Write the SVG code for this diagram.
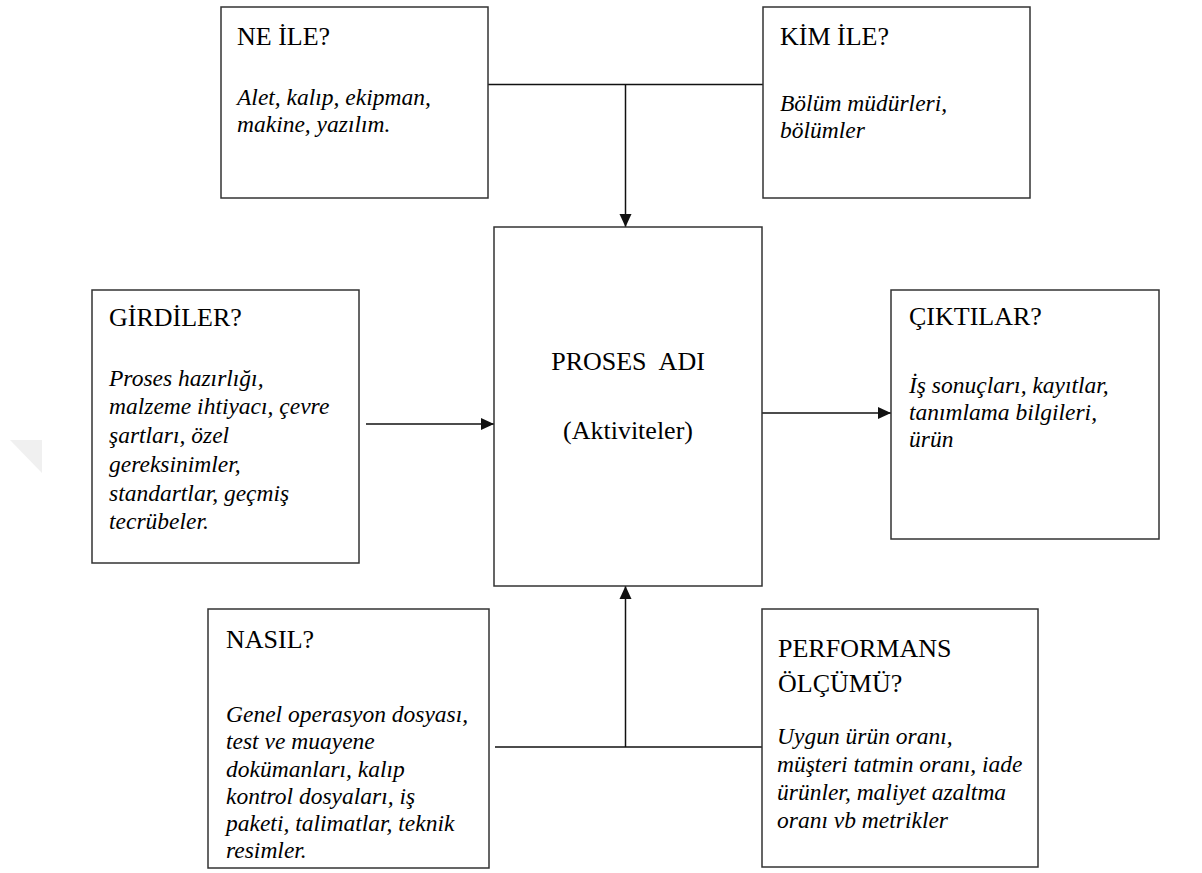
<svg xmlns="http://www.w3.org/2000/svg" width="1202" height="873" viewBox="0 0 1202 873">
<style>
.box{fill:#fff;stroke:#333;stroke-width:1.5}
.t{font-family:"Liberation Serif","Times New Roman",serif;font-size:26px;fill:#000}
.b{font-family:"Liberation Serif","Times New Roman",serif;font-size:23.5px;font-style:italic;fill:#000}
.c{stroke:#111;stroke-width:1.5;fill:none}
</style>
<defs>
<marker id="ah" markerUnits="userSpaceOnUse" markerWidth="14" markerHeight="14" refX="13" refY="7" orient="auto">
<path d="M0,1 L13,7 L0,13 Z" fill="#111"/>
</marker>
</defs>
<rect width="1202" height="873" fill="#fff"/>
<polygon points="10,440 42,440 42,473" fill="#f0f0f0"/>
<g id="connectors">
<line class="c" x1="488" y1="84.5" x2="763" y2="84.5"/>
<line class="c" x1="625.5" y1="84.5" x2="625.5" y2="227" marker-end="url(#ah)"/>
<line class="c" x1="366" y1="424" x2="494" y2="424" marker-end="url(#ah)"/>
<line class="c" x1="762" y1="413" x2="891" y2="413" marker-end="url(#ah)"/>
<line class="c" x1="495" y1="747" x2="768" y2="747"/>
<line class="c" x1="625.5" y1="747" x2="625.5" y2="586" marker-end="url(#ah)"/>
</g>
<g id="ne-ile">
<rect class="box" x="221" y="7" width="267" height="191"/>
<text class="t" x="237" y="45">NE İLE?</text>
<text class="b" x="237" y="105">Alet, kalıp, ekipman,</text>
<text class="b" x="237" y="132">makine, yazılım.</text>
</g>
<g id="kim-ile">
<rect class="box" x="763" y="7" width="267" height="191"/>
<text class="t" x="780" y="45">KİM İLE?</text>
<text class="b" x="780" y="111">Bölüm müdürleri,</text>
<text class="b" x="780" y="138">bölümler</text>
</g>
<g id="girdiler">
<rect class="box" x="92" y="290" width="267" height="273"/>
<text class="t" x="109" y="326">GİRDİLER?</text>
<text class="b" x="109" y="386">Proses hazırlığı,</text>
<text class="b" x="109" y="414">malzeme ihtiyacı, çevre</text>
<text class="b" x="109" y="443">şartları, özel</text>
<text class="b" x="109" y="472">gereksinimler,</text>
<text class="b" x="109" y="501">standartlar, geçmiş</text>
<text class="b" x="109" y="529">tecrübeler.</text>
</g>
<g id="proses">
<rect class="box" x="494" y="227" width="268" height="359"/>
<text class="t" x="628" y="370" text-anchor="middle" word-spacing="7">PROSES ADI</text>
<text class="t" x="628" y="439" text-anchor="middle">(Aktiviteler)</text>
</g>
<g id="ciktilar">
<rect class="box" x="891" y="290" width="268" height="249"/>
<text class="t" x="909" y="325">ÇIKTILAR?</text>
<text class="b" x="909" y="393">İş sonuçları, kayıtlar,</text>
<text class="b" x="909" y="420">tanımlama bilgileri,</text>
<text class="b" x="909" y="447">ürün</text>
</g>
<g id="nasil">
<rect class="box" x="208" y="609" width="281" height="259"/>
<text class="t" x="226" y="648">NASIL?</text>
<text class="b" x="226" y="722">Genel operasyon dosyası,</text>
<text class="b" x="226" y="749">test ve muayene</text>
<text class="b" x="226" y="777">dokümanları, kalıp</text>
<text class="b" x="226" y="804">kontrol dosyaları, iş</text>
<text class="b" x="226" y="831">paketi, talimatlar, teknik</text>
<text class="b" x="226" y="858">resimler.</text>
</g>
<g id="performans">
<rect class="box" x="762" y="609" width="276" height="258"/>
<text class="t" x="778" y="657">PERFORMANS</text>
<text class="t" x="778" y="692">ÖLÇÜMÜ?</text>
<text class="b" x="777" y="744">Uygun ürün oranı,</text>
<text class="b" x="777" y="772">müşteri tatmin oranı, iade</text>
<text class="b" x="777" y="800">ürünler, maliyet azaltma</text>
<text class="b" x="777" y="828">oranı vb metrikler</text>
</g>
</svg>
